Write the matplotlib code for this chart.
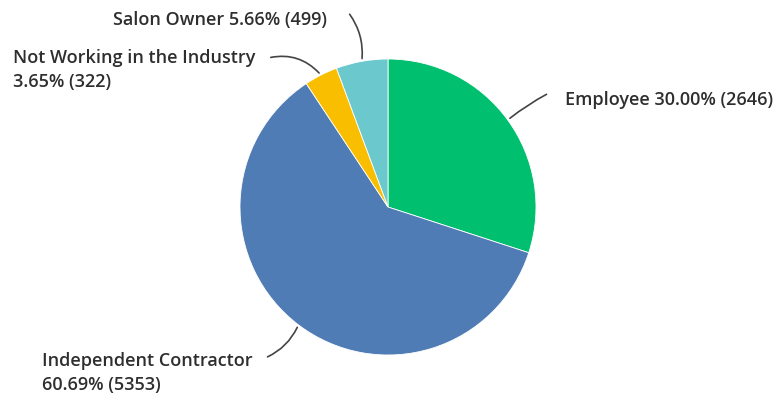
import numpy as np
import matplotlib.pyplot as plt

# Datos
categorias = ['Employee', 'Independent Contractor', 'Not Working in the Industry', 'Salon Owner']
conteos = [2646, 5353, 322, 499]
porcentajes = [30.00, 60.69, 3.65, 5.66]
colores = ['#00bf6f', '#507cb6', '#f9be00', '#6bc8cd']

W, H = 783, 397
fig = plt.figure(figsize=(W / 100, H / 100), dpi=100)
ax = fig.add_axes([0, 0, 1, 1])

cx, cy, r = 388, H - 207, 148
wedges, _ = ax.pie(conteos, colors=colores, startangle=90, counterclock=False,
                   center=(cx, cy), radius=r, frame=True,
                   wedgeprops=dict(linewidth=0.6, edgecolor='white'))
ax.set_xlim(0, W)
ax.set_ylim(0, H)
ax.axis('off')

# Etiquetas: texto, posición del texto, extremo de la línea, curvatura
textos = [
    f'{categorias[0]} {porcentajes[0]:.2f}% ({conteos[0]})',
    f'{categorias[1]}\n{porcentajes[1]:.2f}% ({conteos[1]})',
    f'{categorias[2]}\n{porcentajes[2]:.2f}% ({conteos[2]})',
    f'{categorias[3]} {porcentajes[3]:.2f}% ({conteos[3]})',
]
pos_texto = [(565, 100), (42, 373), (13, 70), (113, 20)]
fin_linea = [(549, 93), (265, 358), (268, 58), (348, 12)]
rad = [0.05, 0.2, -0.3, -0.2]

ang = 90
for i, w in enumerate(wedges):
    frac = conteos[i] / sum(conteos) * 360
    mid = np.deg2rad(ang - frac / 2)
    ang -= frac
    px, py = cx + r * np.cos(mid), cy + r * np.sin(mid)
    tx, ty = pos_texto[i]
    ax.text(tx, H - ty, textos[i], ha='left', va='center', fontsize=13,
            fontfamily='Open Sans', fontweight='semibold', color='#2e2e2e',
            linespacing=1.45)
    lx, ly = fin_linea[i]
    ax.annotate('', xy=(px, py), xytext=(lx, H - ly),
                arrowprops=dict(arrowstyle='-', color='#444444', lw=1.2,
                                connectionstyle=f'arc3,rad={rad[i]}'))

fig.savefig('out.png', dpi=100)
